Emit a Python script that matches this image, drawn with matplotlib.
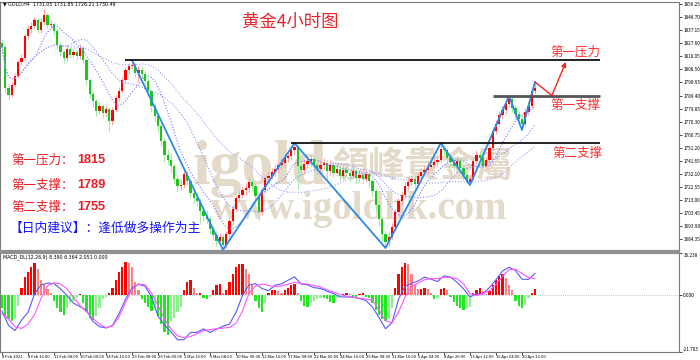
import numpy as np
import pandas as pd
import matplotlib
matplotlib.use("Agg")
import matplotlib.pyplot as plt

plt.rcParams['font.family'] = ['Noto Sans CJK SC', 'DejaVu Sans']

# ---------------- data (8h candles) ----------------
first_open = 1828.0
close = [1825.0,1794.9,1789.8,1797.1,1803.7,1814.0,1816.9,1833.0,1838.1,1840.4,
         1844.8,1837.4,1843.3,1848.4,1841.1,1841.8,1836.7,1826.4,1821.3,1816.9,
         1823.5,1819.1,1821.3,1818.4,1824.2,1815.5,1800.8,1790.5,1785.4,1778.1,
         1781.8,1776.6,1779.6,1770.8,1778.8,1787.6,1792.7,1800.8,1808.1,1811.1,
         1811.8,1805.9,1808.1,1805.2,1800.1,1792.7,1781.8,1774.4,1767.1,1756.1,
         1745.9,1742.2,1737.8,1728.3,1723.2,1723.9,1731.9,1726.8,1718.0,1714.4,
         1712.2,1704.8,1701.2,1699.0,1691.7,1687.3,1682.9,1685.8,1679.9,1688.0,
         1697.5,1706.3,1714.4,1716.6,1720.2,1721.7,1726.1,1723.2,1715.8,1704.1,
         1720.2,1729.0,1730.5,1733.4,1735.6,1738.5,1740.0,1743.7,1745.1,1749.5,
         1751.7,1737.8,1734.9,1739.3,1741.5,1742.9,1738.5,1735.6,1738.5,1740.0,
         1734.1,1738.5,1732.7,1735.6,1730.5,1734.9,1732.7,1730.5,1734.1,1729.0,
         1731.2,1728.3,1731.9,1726.8,1719.5,1709.3,1699.0,1688.0,1682.1,1685.8,
         1693.1,1704.1,1712.2,1716.6,1723.2,1726.1,1728.3,1724.6,1730.5,1733.4,
         1734.9,1737.1,1738.5,1740.7,1742.2,1750.3,1749.5,1743.7,1740.7,1737.8,
         1741.5,1736.3,1731.2,1726.1,1728.3,1741.5,1745.9,1743.7,1737.8,1742.2,
         1751.0,1763.4,1768.6,1775.2,1778.8,1783.2,1786.9,1780.3,1775.9,1772.2,
         1768.6,1777.4,1781.8,1792.7,1794.9]
high = [1831.0,1826.5,1797.5,1799.5,1806.0,1815.5,1820.0,1835.0,1841.0,1843.5,
        1847.0,1846.5,1846.0,1852.8,1850.0,1845.0,1843.5,1838.0,1828.5,1823.0,
        1826.5,1825.0,1823.5,1823.0,1827.0,1825.5,1817.0,1802.5,1793.0,1787.0,
        1785.0,1783.5,1782.5,1781.0,1781.0,1789.5,1795.5,1803.0,1810.5,1813.5,
        1815.4,1813.0,1811.0,1810.5,1807.0,1802.0,1794.5,1784.0,1776.5,1769.0,
        1758.0,1750.0,1747.0,1739.5,1731.0,1728.5,1735.0,1734.0,1728.5,1721.0,
        1718.0,1714.5,1708.0,1705.5,1701.5,1694.0,1690.0,1689.0,1688.0,1690.5,
        1700.0,1709.0,1716.5,1719.5,1723.0,1725.5,1729.5,1728.0,1725.0,1717.5,
        1722.0,1731.0,1734.0,1736.0,1738.5,1741.5,1743.5,1747.0,1748.5,1752.0,
        1754.6,1753.0,1740.0,1742.5,1745.0,1746.5,1745.0,1741.0,1741.5,1743.5,
        1742.0,1742.0,1740.5,1739.0,1737.5,1737.5,1738.0,1735.0,1737.0,1736.0,
        1734.5,1733.5,1735.0,1733.5,1728.5,1721.0,1711.0,1700.5,1690.0,1689.5,
        1696.0,1706.5,1714.5,1719.0,1726.0,1729.5,1731.5,1730.5,1733.0,1736.5,
        1738.0,1740.5,1742.0,1744.0,1746.0,1754.6,1753.5,1751.0,1746.0,1743.0,
        1745.0,1743.5,1738.0,1733.0,1731.0,1744.0,1749.5,1748.5,1745.5,1745.0,
        1753.5,1766.0,1771.5,1778.0,1782.0,1786.0,1789.1,1788.0,1782.5,1778.0,
        1775.0,1780.0,1785.5,1795.0,1799.3]
low = [1820.5,1791.0,1786.0,1788.0,1795.5,1802.0,1811.5,1815.5,1831.0,1835.5,
       1838.0,1835.0,1835.5,1841.0,1839.0,1838.5,1834.0,1823.5,1818.5,1813.5,
       1815.0,1817.0,1817.5,1816.0,1816.5,1813.0,1797.0,1787.5,1781.0,1774.5,
       1776.0,1773.0,1774.0,1762.5,1768.0,1777.0,1785.5,1791.0,1799.0,1805.5,
       1808.5,1803.0,1799.5,1802.0,1797.5,1789.5,1777.0,1771.0,1763.0,1752.5,
       1740.5,1738.5,1733.0,1724.5,1718.5,1720.0,1722.0,1724.0,1714.5,1711.0,
       1708.5,1696.0,1697.5,1695.5,1688.0,1683.5,1679.5,1680.5,1676.3,1678.0,
       1686.0,1695.5,1704.0,1711.5,1714.0,1716.5,1719.0,1719.5,1711.5,1698.5,
       1702.0,1718.0,1726.0,1728.0,1730.5,1733.0,1735.5,1737.0,1740.5,1742.0,
       1746.0,1721.0,1731.5,1732.0,1736.5,1738.0,1735.0,1731.5,1732.0,1735.5,
       1728.5,1731.0,1729.5,1730.5,1727.5,1728.0,1729.5,1726.5,1728.0,1725.5,
       1726.0,1724.5,1726.0,1722.5,1715.0,1704.5,1694.0,1683.0,1677.7,1679.0,
       1683.5,1691.0,1702.0,1709.5,1714.5,1720.5,1723.5,1721.5,1722.5,1728.0,
       1731.0,1732.5,1734.5,1736.0,1738.0,1740.5,1745.5,1740.5,1737.0,1734.0,
       1735.5,1733.0,1727.5,1724.5,1723.9,1727.0,1739.0,1740.5,1735.5,1735.5,
       1740.5,1749.5,1761.0,1766.0,1772.5,1776.0,1781.0,1777.5,1772.0,1768.5,
       1764.2,1767.0,1775.0,1780.0,1790.5]

macd_hist = [-5,-8,-9,-10,-9,-4,3,7,9,11,
             12.5,10,6,4.5,2.5,1,-2,-5,-6.5,-7.5,
             -5,-3,-2,-1,0.5,-3,-6,-8.5,-9.5,-8,
             -5,-1.5,-0.5,1,3,6,9,11,12.8,12.5,
             11,5,2,-1.5,-3,-4.5,-6,-5,-8,-11,
             -14,-15,-10,-8.5,-6.5,-4.5,2,5,6,3,
             1,1,-1,-1.5,-0.5,2,4,4.5,1,2,
             5,8,11,12,12,10,8,4,-2,-5,
             -6.5,-3,1,2,2,1.5,1,2,3,4,
             4.5,1,-2,-4,-4.5,-3,-2,-1.5,-1,-1,
             -1.5,-2.5,-3,-1,-0.5,0.5,1,0.5,-0.5,-0.5,
             0.5,1,-0.5,-1,-3,-5.5,-7.5,-9,-10,-9,
             -5,3,8,11,12.5,12,8,4.5,2.5,2.5,
             3,2.5,1,-1.5,-1,2.5,3,2,-0.5,-2.5,
             -4,-5,-5.5,-5,-4.5,1,2,3,1.5,0.5,
             1.5,4,6,7.5,8,6.5,4,2,-2,-4,
             -5,-3.5,-1,1,2.5]
# MACD lines, one value every second candle
line_step = 2
macd_dif = [-6,-11.5,-13.5,-9.5,-6.5,0.5,4.0,4.7,4.5,2.5,
            0,-3,-4.3,-5.7,-10,-12,-12.5,-11.5,-7,-1.5,
            2.8,4.3,3.5,-0.5,-8,-11.3,-14,-17,-17,-14.2,
            -14.2,-12.8,-14.2,-13,-11.8,-11,-6.5,0,4,4.5,
            2.6,1.8,3.9,4.4,5.8,7.1,4.4,4,3,2.6,
            1.6,0.7,-0.6,-0.6,-0.7,-1.2,-2,-4.5,-8.5,-12.8,
            -10.5,-1.5,3.5,4.6,5.5,7,6.2,5.3,7.5,7,
            5,2.5,-0.6,0.6,0.6,3,6,9.3,10.8,9.5,
            6.2,6.1,8.4]
macd_dea = [-7,-9.2,-12,-12.7,-11,-7.5,-1.2,3.7,4.8,4.4,
            2.5,-0.7,-3.9,-6.3,-8.9,-11,-12.4,-11.7,-8.3,-2.7,
            2.2,4.3,4.1,0.9,-3.8,-9.1,-12.9,-15.5,-16.3,-15.8,
            -14.7,-13.5,-13.1,-12.8,-12.5,-12.3,-10.7,-6,0.8,3.6,
            4.4,3.8,3.3,3.6,4.3,5,4.6,4.3,3.8,3.2,
            2.1,1.3,0.4,-0.3,-0.7,-1.1,-1.4,-1.8,-5.5,-9.7,
            -10.5,-6.5,-0.6,3.4,4.7,6,6.4,6.4,6.9,6.9,
            6.4,4.5,0.6,0,0.6,1.8,4.2,7.3,9.9,10,
            8.4,6.8,6.4]

date_labels = ["4 Feb 2021", "8 Feb 16:00", "11 Feb 08:00", "16 Feb 00:00",
               "18 Feb 16:00", "23 Feb 08:00", "26 Feb 00:00", "2 Mar 16:00",
               "5 Mar 08:00", "10 Mar 00:00", "12 Mar 16:00", "17 Mar 08:00",
               "22 Mar 00:00", "24 Mar 16:00", "29 Mar 08:00", "31 Mar 16:00",
               "5 Apr 04:00", "8 Apr 20:00", "13 Apr 12:00", "16 Apr 04:00",
               "20 Apr 12:00"]
label_step = 8

price_ticks = [1856.25, 1846.70, 1837.15, 1827.60, 1818.05, 1808.50, 1798.95,
               1789.40, 1779.85, 1770.30, 1760.75, 1751.20, 1741.65, 1732.10,
               1722.55, 1713.00, 1703.45, 1693.90, 1684.35]
macd_ticks = [16.238, 0.0, -21.703]

levels = [1815.4, 1789.4, 1754.6]
level_start = [38, 151, 89]
level_end = 184
zz_idx = [40, 68, 90, 118, 135, 144, 156, 160, 164]
zz_kind = ['H', 'L', 'H', 'L', 'H', 'L', 'H', 'L', 'H']
arrow_idx = [164, 169.2, 173.5]
arrow_price = [1799.3, 1789.4, 1814.0]
ma_windows = [10, 20, 40]

# ---------------- figure ----------------
W, H = 700, 360
fig = plt.figure(figsize=(7, 3.6), dpi=100)
fig.patch.set_facecolor('white')
ax = fig.add_axes([0, 1 - 251 / H, 679 / W, 249 / H])
axm = fig.add_axes([0, 1 - 352 / H, 679 / W, 99 / H])
xlim = (-2 / 3.25, 677 / 3.25)

c = np.array(close); hi = np.array(high); lo = np.array(low)
n = len(c)
idx = np.arange(n)
op = np.r_[first_open, c[:-1]]
up = c >= op

tr = ax.transAxes
def fy(y):
    return (251 - y) / 249

# watermark
wm = '#e3dac9'
ax.text(193 / 679, fy(184), 'igold', transform=tr,
        family=['Liberation Serif'], weight='bold', fontsize=46, color=wm,
        va='baseline', ha='left', zorder=1)
ax.text(332 / 679, fy(167), '領峰貴金屬', transform=tr,
        family=['Noto Sans CJK TC'], weight='bold', fontsize=26, color=wm,
        va='center', ha='left', zorder=1)
ax.text(211 / 679, fy(219), 'www.igoldhk.com', transform=tr,
        family=['Liberation Serif'], weight='bold', fontsize=28, color=wm,
        va='baseline', ha='left', zorder=1)

# candles
ax.vlines(idx, lo, hi, colors=np.where(up, '#ffa8a8', '#a6e8a6'), lw=0.8, zorder=3)
ax.bar(idx, np.maximum(np.abs(c - op), 0.35), bottom=np.minimum(op, c), width=0.62,
       color=np.where(up, '#ff0000', '#19c819'), linewidth=0, zorder=4)

# moving averages
s = pd.Series(c)
for w, col in zip(ma_windows, ['#7474ff', '#8c8cff', '#a0a0ff']):
    ax.plot(idx, s.rolling(w, min_periods=1).mean(), color=col, lw=0.8,
            ls=(0, (1, 1.6)), zorder=5)

# zigzag
zz_price = [hi[i] if k == 'H' else lo[i] for i, k in zip(zz_idx, zz_kind)]
ax.plot(zz_idx, zz_price, color='#2a8ae6', lw=1.3, zorder=6)

# levels
ax.hlines(levels[0], level_start[0], level_end, color='#111111', lw=1.3, zorder=6)
ax.hlines(levels[1], level_start[1], level_end, color='#555555', lw=2.0, zorder=6)
ax.hlines(levels[2], level_start[2], level_end, color='#111111', lw=1.3, zorder=6)

# red forecast arrow
red = '#ff2020'
ax.plot(arrow_idx[:2], arrow_price[:2], color=red, lw=1.0, zorder=7)
ax.annotate('', xy=(arrow_idx[2], arrow_price[2]), xytext=(arrow_idx[1], arrow_price[1]),
            arrowprops=dict(arrowstyle='-|>', color=red, lw=1.0, mutation_scale=7,
                            shrinkA=0, shrinkB=0), zorder=7)

# texts
ax.text(290 / 679, fy(22), '黄金4小时图', transform=tr, fontsize=12.5, color='#e8242c',
        ha='center', va='center', zorder=8)
ax.text(550 / 679, fy(52), '第一压力', transform=tr, fontsize=9, color='#ff3030',
        ha='left', va='center', zorder=8)
ax.text(550 / 679, fy(105), '第一支撑', transform=tr, fontsize=9, color='#ff3030',
        ha='left', va='center', zorder=8)
ax.text(552 / 679, fy(153), '第二支撑', transform=tr, fontsize=9, color='#ff3030',
        ha='left', va='center', zorder=8)
left_rows = [('第一压力：', '1815', 160), ('第一支撑：', '1789', 185), ('第二支撑：', '1755', 207)]
for lab, num, yy in left_rows:
    ax.text(11 / 679, fy(yy), lab, transform=tr, fontsize=9, color='#ee1c24',
            ha='left', va='center', zorder=8)
    ax.text(77 / 679, fy(yy), num, transform=tr, fontsize=9.2, color='#ee1c24',
            family=['Liberation Sans'], weight='bold', ha='left', va='center', zorder=8)
ax.text(9 / 679, fy(228), '【日内建议】：逢低做多操作为主', transform=tr, fontsize=9.2,
        color='#1414ff', ha='left', va='center', zorder=8)
ax.text(0.004, fy(4), '\u25bc GOLD,H4  1731.05 1731.85 1726.21 1730.49', transform=tr,
        fontsize=3.4, family=['DejaVu Sans'], ha='left', va='center', zorder=8)

ax.set_xlim(*xlim)
ax.set_ylim(1675.5, 1857.9)
ax.yaxis.tick_right()
ax.set_yticks(price_ticks)
ax.set_yticklabels(['%.2f' % v for v in price_ticks])
ax.set_xticks([])
ax.tick_params(axis='y', labelsize=3.4, length=2, width=0.5, pad=1)

# MACD panel
h = np.array(macd_hist, dtype=float)
dh = np.diff(h, prepend=h[0])
cols = np.where(h >= 0, np.where(dh >= 0, '#ff0000', '#ff8080'),
                np.where(dh <= 0, '#1fe81f', '#8cf08c'))
axm.bar(idx, h, width=0.62, color=cols, linewidth=0, zorder=3)
lx = np.arange(0, n, line_step)
axm.plot(lx, macd_dif, color='#5a5aff', lw=0.8, zorder=4)
axm.plot(lx, macd_dea, color='#ff55ff', lw=0.8, zorder=4)
axm.axhline(0, color='#b4b4b4', lw=0.6, ls=(0, (1, 1.5)), zorder=2)
axm.text(0.004, 1 - 4 / 99, 'MACD_DL(12,26,9) 8.390 6.364 2.051 0.000',
         transform=axm.transAxes, fontsize=3.4, family=['DejaVu Sans'],
         ha='left', va='center', zorder=8)
axm.set_xlim(*xlim)
axm.set_ylim(-21.703, 16.238)
axm.yaxis.tick_right()
axm.set_yticks(macd_ticks)
axm.set_yticklabels(['%.3f' % v for v in macd_ticks])
ylabs = axm.get_yticklabels()
ylabs[0].set_va('top'); ylabs[2].set_va('bottom')
axm.set_xticks(np.arange(len(date_labels)) * label_step)
axm.set_xticklabels(date_labels, ha='left')
axm.tick_params(axis='y', labelsize=3.4, length=2, width=0.5, pad=1)
axm.tick_params(axis='x', labelsize=3.0, length=2, width=0.5, pad=0.5)

for a in (ax, axm):
    for sp in a.spines.values():
        sp.set_color('#7a7a7a')
        sp.set_linewidth(0.8)
ax.spines['bottom'].set_linewidth(1.6)
ax.spines['bottom'].set_color('#909090')
axm.spines['top'].set_linewidth(1.6)
axm.spines['top'].set_color('#909090')

fig.savefig('out.png', dpi=100, facecolor='white')
